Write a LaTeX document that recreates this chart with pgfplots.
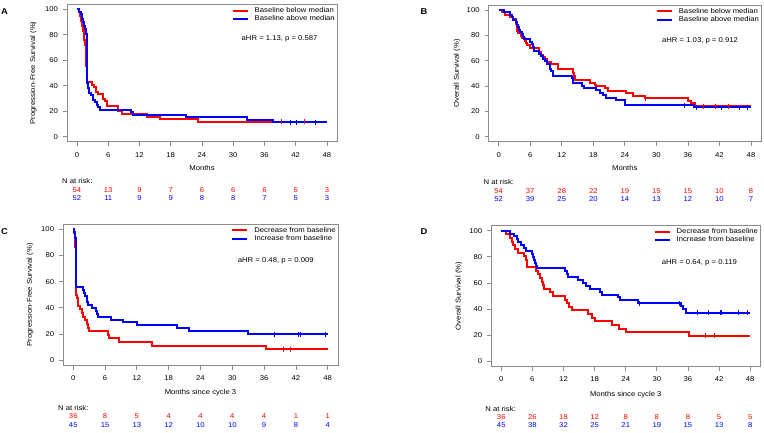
\documentclass[border=0pt]{standalone}
\usepackage{fontspec}
\setmainfont{Liberation Sans}[FakeStretch=1.1]
\usepackage{pgfplots}
\pgfplotsset{compat=1.18}
\definecolor{kmred}{RGB}{255,0,0}
\definecolor{kmblue}{RGB}{0,0,255}
\definecolor{axgray}{RGB}{140,140,140}
\newcommand\fs{\fontsize{7}{8}\selectfont}
\pgfplotsset{
 km/.style={
  scale only axis, anchor=south west, clip=false,
  xmin=-1.92, xmax=49.92, ymin=-4, ymax=104,
  xtick={0,6,...,48}, ytick={0,20,...,100},
  tick align=outside, tick pos=left, major tick length=4pt,
  axis line style={draw=axgray, line width=0.8pt},
  every tick/.style={draw=axgray, line width=0.8pt},
  /pgf/number format/assume math mode=true,
  ticklabel style={font=\fs},
  xticklabel style={yshift=-3pt},
  yticklabel style={xshift=-1.5pt},
  every axis x label/.style={at={(rel axis cs:0.5,0)}, anchor=center, font=\fs},
  every axis y label/.style={rotate=90, anchor=center, font=\fs},
  legend style={draw=none, fill=none, at={(rel axis cs:1,1)}, anchor=north east,
    xshift=-2pt, yshift=-3pt, font=\fs, inner sep=0pt, row sep=1.5pt, column sep=6pt,
    nodes={inner sep=0pt}},
  legend image code/.code={\draw[#1, line width=2pt] (0pt,0pt) -- (15pt,0pt);},
  legend cell align=left,
 },
 kmline/.style={const plot, line width=2pt, mark=none},
 cens/.style={only marks, mark=|, mark size=2.5pt, mark options={line width=0.8pt}},
 risk/.style={draw=none, mark=none, nodes near coords, point meta=explicit symbolic,
   every node near coord/.append style={anchor=center, font=\fs, inner sep=0pt, text=#1}},
}
\begin{document}
\begin{tikzpicture}
\path[use as bounding box] (0pt,0pt) rectangle (764pt,432pt);
\node[font=\bfseries\fontsize{8.5}{9}\selectfont] at (4.5pt,420.3pt) {A};
\node[font=\bfseries\fontsize{8.5}{9}\selectfont] at (424pt,420.3pt) {B};
\node[font=\bfseries\fontsize{8.5}{9}\selectfont] at (4.5pt,200pt) {C};
\node[font=\bfseries\fontsize{8.5}{9}\selectfont] at (424pt,200.5pt) {D};

% ---------------- A ----------------
\begin{axis}[km, at={(67pt,290.2pt)}, width=270pt, height=137.6pt,
  xlabel={Months}, xlabel style={yshift=-26.5pt},
  ylabel={Progression-Free Survival (\%)}, ylabel style={at={(rel axis cs:-0.125,0.5)}}]
\addplot[kmline, color=kmred] coordinates {(0,100)(0.3,98.1)(0.5,94.4)(0.7,90.7)(0.9,87)(1.1,83.3)(1.3,79.6)(1.4,75.9)(1.6,72.2)(1.7,64.8)(1.8,55.6)(1.9,42.6)(2.8,40.7)(3.3,38.9)(3.6,35.2)(4.0,33.3)(4.9,29.6)(5.3,27.8)(5.8,24.1)(7.9,20.4)(8.6,17.6)(13.4,15.7)(16.0,13.7)(23.2,11.8)(48,11.8)};
\addplot[kmline, color=kmblue] coordinates {(0,100)(0.4,98.1)(0.7,96.2)(0.9,92.3)(1.1,90.4)(1.3,86.5)(1.5,84.6)(1.7,80.8)(1.85,46.2)(2.0,42.3)(2.2,38.5)(2.4,34.6)(2.7,32.7)(3.0,28.8)(3.4,26.9)(3.8,25)(4.1,23.1)(4.5,21.2)(10.4,19.2)(10.8,17.3)(20.9,15.4)(32.6,13.5)(37.6,11.5)(48,11.5)};
\legend{Baseline below median, Baseline above median}
\addplot[cens, color=kmred] coordinates {(39.2,11.8)(43.6,11.8)};
\addplot[cens, color=kmblue] coordinates {(40.9,11.5)(42.2,11.5)(45.8,11.5)};
\node[font=\fs, anchor=center] at (axis cs:38.9,76.7) {aHR = 1.13, p = 0.587};
\node[font=\fs, anchor=west, inner sep=0pt] at (axis cs:-2.9,-34.8) {N at risk:};
\addplot[risk=kmred] coordinates {(0,-41.9)[54](6,-41.9)[13](12,-41.9)[9](18,-41.9)[7](24,-41.9)[6](30,-41.9)[6](36,-41.9)[6](42,-41.9)[5](48,-41.9)[3]};
\addplot[risk=kmblue] coordinates {(0,-48.4)[52](6,-48.4)[11](12,-48.4)[9](18,-48.4)[9](24,-48.4)[8](30,-48.4)[8](36,-48.4)[7](42,-48.4)[5](48,-48.4)[3]};
\end{axis}

% ---------------- B ----------------
\begin{axis}[km, at={(488.6pt,290.2pt)}, width=272.5pt, height=136.8pt,
  xlabel={Months}, xlabel style={yshift=-26.5pt},
  ylabel={Overall Survival (\%)}, ylabel style={at={(rel axis cs:-0.116,0.5)}}]
\addplot[kmline, color=kmred] coordinates {(0,100)(0.56,98.1)(1.2,96.3)(2.15,94.4)(2.8,92.6)(3.2,88.9)(3.4,85.2)(3.5,83.3)(3.7,81.5)(4.2,79.6)(4.5,77.8)(5.0,75.9)(5.2,74.1)(5.4,72.2)(5.95,70.4)(7.7,66.7)(8.0,64.8)(8.5,63)(8.8,61.1)(9.1,59.3)(10.0,57.4)(11.3,53.7)(14.1,50)(14.3,48.1)(14.5,44.4)(17.4,42.6)(18.3,40.7)(18.6,40.2)(20.3,38.3)(20.8,36.4)(24.3,34.5)(25.5,32.5)(27.9,30.5)(36.1,28.5)(36.5,26.5)(37.3,24.2)(48,24.2)};
\addplot[kmline, color=kmblue] coordinates {(0,100)(1.0,98.1)(2.15,96.2)(2.5,94.2)(2.8,92.3)(3.3,90.4)(3.5,88.5)(3.7,86.5)(3.9,84.6)(4.1,82.7)(4.4,80.8)(4.7,78.8)(4.9,76.9)(6.0,75)(6.3,73.1)(6.5,71.2)(6.7,67.3)(7.7,65.4)(8.0,63.5)(8.4,61.5)(8.8,59.6)(9.2,57.7)(9.75,53.8)(10.0,51.9)(10.4,48.1)(13.9,46.2)(14.1,42.3)(15.8,40.4)(16.2,38.5)(18.6,36.5)(19.3,34.6)(19.9,32.7)(20.5,30.8)(22.4,28.8)(24.0,25)(37.2,23.1)(48,23.1)};
\legend{Baseline below median, Baseline above median}
\addplot[cens, color=kmred] coordinates {(27.9,30.5)(39,24.2)(41.2,24.2)(43.7,24.2)};
\addplot[cens, color=kmblue] coordinates {(35.3,25)(37.7,23.1)(42.4,23.1)(45.7,23.1)(47.4,23.1)};
\node[font=\fs, anchor=center] at (axis cs:38.3,75.5) {aHR = 1.03, p = 0.912};
\node[font=\fs, anchor=west, inner sep=0pt] at (axis cs:-2.9,-35.5) {N at risk:};
\addplot[risk=kmred] coordinates {(0,-42.6)[54](6,-42.6)[37](12,-42.6)[28](18,-42.6)[22](24,-42.6)[19](30,-42.6)[15](36,-42.6)[15](42,-42.6)[10](48,-42.6)[8]};
\addplot[risk=kmblue] coordinates {(0,-49.2)[52](6,-49.2)[39](12,-49.2)[25](18,-49.2)[20](24,-49.2)[14](30,-49.2)[13](36,-49.2)[12](42,-49.2)[10](48,-49.2)[7]};
\end{axis}

% ---------------- C ----------------
\begin{axis}[km, at={(63.1pt,66.5pt)}, width=274.8pt, height=141.5pt,
  xlabel={Months since cycle 3}, xlabel style={yshift=-27.5pt},
  ylabel={Progression-Free Survival (\%)}, ylabel style={at={(rel axis cs:-0.12,0.5)}}]
\addplot[kmline, color=kmred] coordinates {(0,100)(0.15,97.2)(0.25,91.7)(0.35,86.1)(0.45,72.2)(0.5,55.6)(0.55,50)(0.63,47.2)(0.8,44.4)(0.95,41.7)(1.26,38.9)(1.58,36.1)(1.9,33.3)(2.2,30.6)(2.52,27.8)(2.8,25)(3.0,22.2)(6.5,19.4)(6.8,16.7)(8.7,13.9)(14.9,11.1)(36.3,8.3)(48,8.3)};
\addplot[kmline, color=kmblue] coordinates {(0,100)(0.2,97.8)(0.3,95.6)(0.4,93.3)(0.5,88.9)(0.55,80)(0.6,55.6)(1.8,53.3)(2.0,51.1)(2.3,48.9)(2.5,46.7)(2.6,44.4)(2.7,42.2)(3.6,40)(4.2,37.8)(4.4,35.6)(4.6,33.3)(7.2,31.1)(9.3,28.9)(12.1,26.7)(19.5,24.4)(21.9,22.2)(33,20)(48,20)};
\legend{Decrease from baseline, Increase from baseline}
\addplot[cens, color=kmred] coordinates {(39.6,8.3)(41,8.3)};
\addplot[cens, color=kmblue] coordinates {(38,20)(42.5,20)(42.9,20)(47.5,20)};
\node[font=\fs, anchor=center] at (axis cs:38.2,76.3) {aHR = 0.48, p = 0.009};
\node[font=\fs, anchor=west, inner sep=0pt] at (axis cs:-2.9,-36.2) {N at risk:};
\addplot[risk=kmred] coordinates {(0,-42.5)[36](6,-42.5)[8](12,-42.5)[5](18,-42.5)[4](24,-42.5)[4](30,-42.5)[4](36,-42.5)[4](42,-42.5)[1](48,-42.5)[1]};
\addplot[risk=kmblue] coordinates {(0,-49.6)[45](6,-49.6)[15](12,-49.6)[13](18,-49.6)[12](24,-49.6)[10](30,-49.6)[10](36,-49.6)[9](42,-49.6)[8](48,-49.6)[4]};
\end{axis}

% ---------------- D ----------------
\begin{axis}[km, at={(491.3pt,65.5pt)}, width=268.9pt, height=141pt,
  xlabel={Months since cycle 3}, xlabel style={yshift=-27.8pt},
  ylabel={Overall Survival (\%)}, ylabel style={at={(rel axis cs:-0.121,0.5)}}]
\addplot[kmline, color=kmred] coordinates {(0,100)(1.0,97.2)(1.7,94.4)(2.0,91.7)(2.3,88.9)(2.7,86.1)(3.3,83.3)(4.3,80.6)(4.8,77.8)(4.95,75)(5.05,72.2)(6.7,69.4)(7.1,66.7)(7.4,63.9)(7.8,61.1)(8.1,58.3)(8.3,55.6)(9.4,52.8)(10.0,50)(12.3,47.2)(12.6,44.4)(13.0,41.7)(13.6,38.9)(16.8,36.1)(17.4,33.3)(18.0,30.6)(21.3,27.8)(22.7,25)(24.0,22.2)(36.1,19.4)(48,19.4)};
\addplot[kmline, color=kmblue] coordinates {(0,100)(1.7,97.8)(2.4,95.6)(3.0,93.3)(3.3,91.1)(3.9,88.9)(4.3,86.7)(4.8,84.4)(6.0,82.2)(6.2,80)(6.35,77.8)(6.5,75.6)(6.65,73.3)(6.8,71.1)(12.3,68.9)(12.6,66.7)(12.9,64.4)(14.8,62.2)(15.8,60)(16.4,57.8)(17.1,55.6)(19.0,53.3)(19.5,51.1)(22.5,48.9)(22.9,46.7)(26.4,44.4)(34.6,42.2)(35.1,40)(35.7,37.2)(48,37.2)};
\legend{Decrease from baseline, Increase from baseline}
\addplot[cens, color=kmred] coordinates {(39.3,19.4)(41,19.4)};
\addplot[cens, color=kmblue] coordinates {(26.6,44.4)(34.3,44.4)(37.8,37.2)(40,37.2)(42.2,37.2)(42.5,37.2)(45.8,37.2)(47.5,37.2)};
\node[font=\fs, anchor=center] at (axis cs:38.2,75.5) {aHR = 0.64, p = 0.119};
\node[font=\fs, anchor=west, inner sep=0pt] at (axis cs:-3.1,-36.3) {N at risk:};
\addplot[risk=kmred] coordinates {(0,-42.4)[36](6,-42.4)[26](12,-42.4)[18](18,-42.4)[12](24,-42.4)[8](30,-42.4)[8](36,-42.4)[8](42,-42.4)[5](48,-42.4)[5]};
\addplot[risk=kmblue] coordinates {(0,-49)[45](6,-49)[38](12,-49)[32](18,-49)[25](24,-49)[21](30,-49)[19](36,-49)[15](42,-49)[13](48,-49)[8]};
\end{axis}
\end{tikzpicture}
\end{document}
